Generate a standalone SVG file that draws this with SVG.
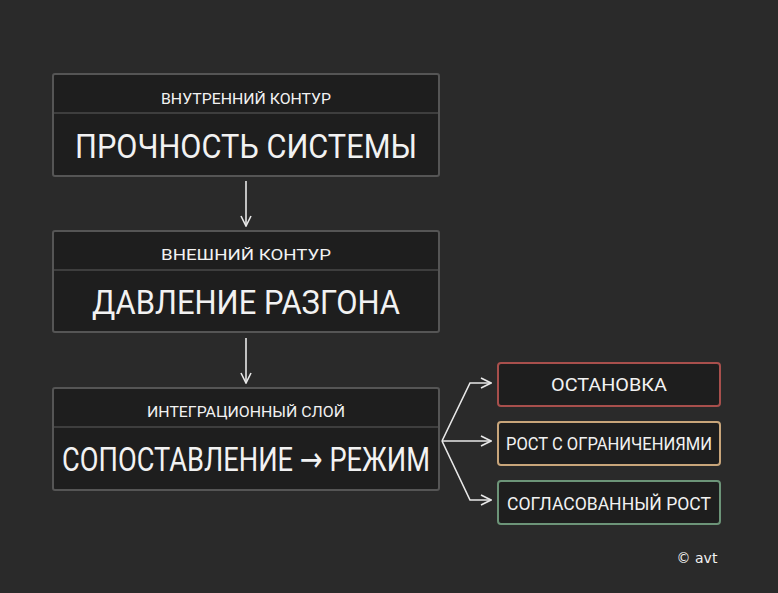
<svg xmlns="http://www.w3.org/2000/svg" width="778" height="593" viewBox="0 0 778 593">
<style>
.box{fill:#1e1e1e;stroke:#555;stroke-width:2}
.div{stroke:#4a4a4a;stroke-width:1.5}
text{font-family:Roboto,"Liberation Sans",sans-serif;fill:#f2f2f2;text-anchor:middle}
.sub{font-size:15px}
.main{font-size:34px}
.out{font-size:19px}
.c{fill:none;stroke:#e8e8e8;stroke-width:1.6}
</style>
<defs><marker id="a" viewBox="0 0 12 12" refX="11" refY="6" markerWidth="12" markerHeight="12" markerUnits="userSpaceOnUse" orient="auto"><path d="M1 1L11 6L1 11" fill="none" stroke="#e8e8e8" stroke-width="1.6"/></marker></defs>
<rect width="778" height="593" fill="#2a2a2a"/>
<g id="n1"><rect class="box" x="53" y="74" width="386" height="102" rx="2"/><line class="div" x1="54" y1="113" x2="438" y2="113"/>
<text class="sub" x="246" y="104" textLength="170" lengthAdjust="spacingAndGlyphs">ВНУТРЕННИЙ КОНТУР</text>
<text class="main" x="246" y="158" textLength="342" lengthAdjust="spacingAndGlyphs">ПРОЧНОСТЬ СИСТЕМЫ</text></g>
<g id="n2"><rect class="box" x="53" y="231" width="386" height="101" rx="2"/><line class="div" x1="54" y1="270" x2="438" y2="270"/>
<text class="sub" x="246" y="260" textLength="170" lengthAdjust="spacingAndGlyphs">ВНЕШНИЙ КОНТУР</text>
<text class="main" x="246" y="314" textLength="308" lengthAdjust="spacingAndGlyphs">ДАВЛЕНИЕ РАЗГОНА</text></g>
<g id="n3"><rect class="box" x="53" y="388" width="386" height="102" rx="2"/><line class="div" x1="54" y1="427" x2="438" y2="427"/>
<text class="sub" x="246" y="417" textLength="198" lengthAdjust="spacingAndGlyphs">ИНТЕГРАЦИОННЫЙ СЛОЙ</text>
<text class="main" x="246" y="471" textLength="368" lengthAdjust="spacingAndGlyphs">СОПОСТАВЛЕНИЕ <tspan style="font-family:'DejaVu Sans',sans-serif">→</tspan> РЕЖИМ</text></g>
<g id="o1"><rect x="498" y="363" width="222" height="43" rx="3" fill="#1e1e1e" stroke="#a84f4c" stroke-width="2"/><text class="out" x="609" y="391" textLength="116" lengthAdjust="spacingAndGlyphs">ОСТАНОВКА</text></g>
<g id="o2"><rect x="498" y="422" width="222" height="43" rx="3" fill="#1e1e1e" stroke="#c8a57a" stroke-width="2"/><text class="out" x="609" y="450" textLength="206" lengthAdjust="spacingAndGlyphs">РОСТ С ОГРАНИЧЕНИЯМИ</text></g>
<g id="o3"><rect x="498" y="481" width="222" height="43" rx="3" fill="#1e1e1e" stroke="#6c9478" stroke-width="2"/><text class="out" x="609" y="510" textLength="204" lengthAdjust="spacingAndGlyphs">СОГЛАСОВАННЫЙ РОСТ</text></g>
<g id="connectors">
<path class="c" d="M246 181V226" marker-end="url(#a)"/>
<path class="c" d="M246 338V383" marker-end="url(#a)"/>
<path class="c" d="M442 441L470 383H491" marker-end="url(#a)"/>
<path class="c" d="M442 441H491" marker-end="url(#a)"/>
<path class="c" d="M442 441L470 500H491" marker-end="url(#a)"/>
</g>
<text x="697" y="563" style="font-size:14px;font-family:'DejaVu Sans',sans-serif">© avt</text>
</svg>
